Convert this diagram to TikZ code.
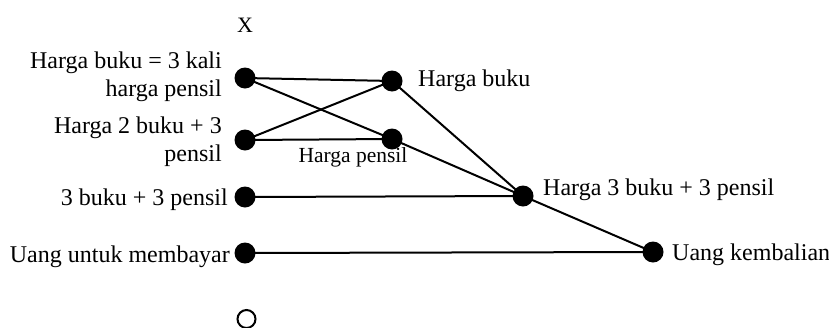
\documentclass[tikz,border=0pt]{standalone}
\usepackage{fontspec}
\setmainfont{Liberation Serif}
\begin{document}
\begin{tikzpicture}[x=1pt,y=-1pt,
  dot/.style={circle,fill=black,inner sep=0pt,minimum size=21pt},
  lbl/.style={inner sep=0pt,font=\fontsize{24}{28}\selectfont},
  small/.style={inner sep=0pt,font=\fontsize{21.5}{24}\selectfont},
  edge/.style={line width=2pt}]
\useasboundingbox (0,0) rectangle (829,327);
\node[dot] (a1) at (245,78) {};
\node[dot] (a2) at (245,140) {};
\node[dot] (a3) at (245,197) {};
\node[dot] (a4) at (245,253) {};
\node[dot] (b1) at (392,81) {};
\node[dot] (b2) at (392,139) {};
\node[dot] (c) at (523,196) {};
\node[dot] (d) at (653,252) {};
\node[circle,draw,line width=2pt,inner sep=0pt,minimum size=18pt] (o) at (246.5,319) {};
\node[inner sep=0pt,font=\fontsize{22}{26}\selectfont,anchor=base] (x) at (245,32) {X};
\node[lbl,anchor=base east,align=right] (ta1) at (222,96) {Harga buku = 3 kali\\harga pensil};
\node[lbl,anchor=base east,align=right] (ta2) at (222,161) {Harga 2 buku + 3\\pensil};
\node[lbl,anchor=base east] (ta3) at (228,205) {3 buku + 3 pensil};
\node[lbl,anchor=base east] (ta4) at (230,262) {Uang untuk membayar};
\node[lbl,anchor=base west] (tb1) at (418,86) {Harga buku};
\node[small,anchor=base] (tb2) at (353,162) {Harga pensil};
\node[lbl,anchor=base west] (tc) at (543,195) {Harga 3 buku + 3 pensil};
\node[lbl,anchor=base west] (td) at (672,260) {Uang kembalian};
\draw[edge] (a1.center) -- (b1.center);
\draw[edge] (a1.center) -- (b2.center);
\draw[edge] (a2.center) -- (b1.center);
\draw[edge] (a2.center) -- (b2.center);
\draw[edge] (b1.center) -- (c.center);
\draw[edge] (b2.center) -- (c.center);
\draw[edge] (a3.center) -- (c.center);
\draw[edge] (a4.center) -- (d.center);
\draw[edge] (c.center) -- (d.center);
\end{tikzpicture}
\end{document}
